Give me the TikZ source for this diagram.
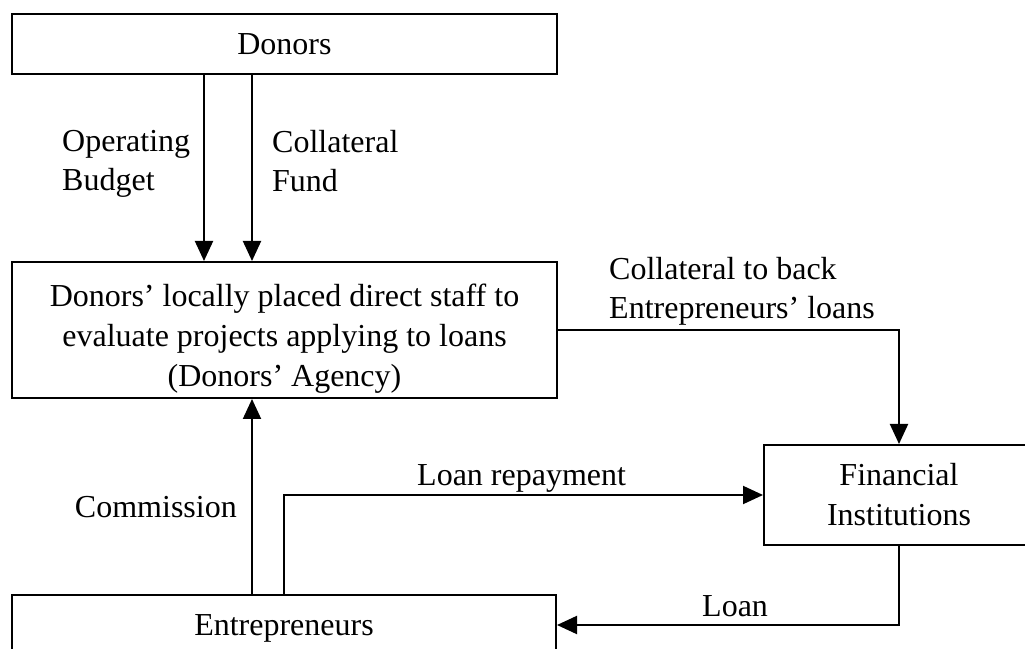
\documentclass[tikz,border=0pt]{standalone}
\usepackage{fontspec}
\setmainfont{Liberation Serif}
\usetikzlibrary{arrows.meta}
\begin{document}
\begin{tikzpicture}[x=1pt,y=1pt,
  box/.style={draw, line width=2pt, inner sep=0pt, align=center,
    font=\fontsize{32}{40}\selectfont},
  boxtext/.style={inner sep=0pt, align=center, font=\fontsize{32}{40}\selectfont},
  flow/.style={line width=2pt, -{Triangle[length=20pt,width=18pt]}},
  lbl/.style={inner sep=0pt, align=left, font=\fontsize{32}{39}\selectfont}]
\useasboundingbox (0,0) rectangle (1025,648);

% boxes
\node[box, text depth=0pt, minimum width=545pt, minimum height=60pt] (donors) at (284.5,604) {Donors};
\node[box, minimum width=545pt, minimum height=136pt] (agency) at (284.5,318) {};
\node[boxtext] (agencytext) at ([yshift=-9pt]agency.center)
  {Donors’ locally placed direct staff to\\evaluate projects applying to loans\\(Donors’ Agency)};
\node[box, minimum width=270pt, minimum height=100pt] (fi) at (899,153) {Financial\\Institutions};
\node[box, text depth=0pt, minimum width=544pt, minimum height=60pt] (ent) at (284,23) {Entrepreneurs};

% flows
\draw[flow] ([xshift=-80.5pt]donors.south) -- ([xshift=-80.5pt]agency.north);
\draw[flow] ([xshift=-32.5pt]donors.south) -- ([xshift=-32.5pt]agency.north);
\draw[flow] (agency.east) -| (fi.north);
\draw[flow] ([xshift=-32pt]ent.north) -- ([xshift=-32pt]ent.north |- agency.south);
\draw[flow] (ent.north) |- (fi.west);
\draw[flow] (fi.south) |- (ent.east);

% flow labels
\node[lbl, anchor=north west] (opb) at (62,518) {Operating\\Budget};
\node[lbl, anchor=north west] (colf) at (272,518) {Collateral\\Fund};
\node[lbl, anchor=west] (colb) at (609,356.5) {Collateral to back\\Entrepreneurs’ loans};
\node[lbl, anchor=base east] (comm) at (237,130) {Commission};
\node[lbl, anchor=base west] (repay) at (417,162) {Loan repayment};
\node[lbl, anchor=base west] (loan) at (702,32) {Loan};
\end{tikzpicture}
\end{document}
